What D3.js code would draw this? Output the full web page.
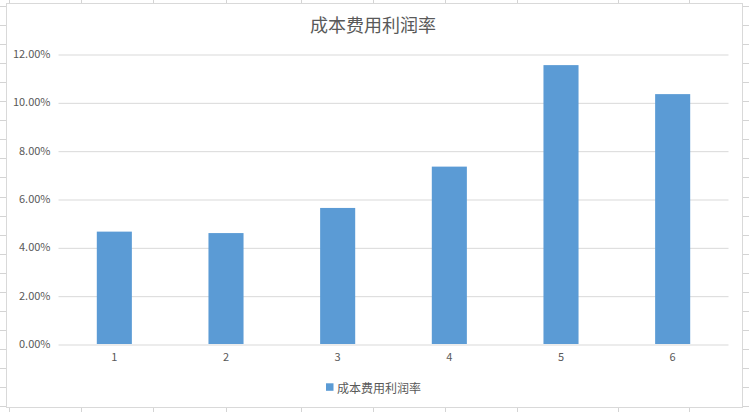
<!DOCTYPE html>
<html>
<head>
<meta charset="utf-8">
<script src="https://cdn.jsdelivr.net/npm/d3@7"></script>
<style>
  body { margin: 0; background: #fff; }
  svg { display: block; }
</style>
</head>
<body>
<svg width="749" height="412"></svg>
<script>
  // data
  var categories = ["1", "2", "3", "4", "5", "6"];
  var values = [0.0465, 0.0459, 0.0563, 0.0734, 0.1154, 0.1034];
  var yTicks = [0, 0.02, 0.04, 0.06, 0.08, 0.10, 0.12];
  var seriesName = "成本费用利润率";
  var title = "成本费用利润率";

  var W = 749, H = 412;
  var plot = { left: 58.5, right: 728.5, top: 54, bottom: 344 };
  var textColor = "#595959";
  var barColor = "#5b9bd5";
  var font = "'Noto Sans CJK SC', 'Noto Sans', sans-serif";

  var svg = d3.select("svg");

  // spreadsheet cells behind the chart
  var colLines = [9, 81, 153, 226, 301, 373, 445, 517, 618, 689];
  var bg = svg.append("g").attr("stroke", "#d4d4d4").attr("stroke-width", 1);
  bg.selectAll("line.col")
      .data(colLines)
      .enter().append("line")
      .attr("x1", function(d) { return d + 0.5; })
      .attr("x2", function(d) { return d + 0.5; })
      .attr("y1", 0).attr("y2", H);
  bg.selectAll("line.row")
      .data(d3.range(0, 22))
      .enter().append("line")
      .attr("x1", 0).attr("x2", W)
      .attr("y1", function(d) { return Math.round(6 + d * 19.05) + 0.5; })
      .attr("y2", function(d) { return Math.round(6 + d * 19.05) + 0.5; });

  // chart box
  svg.append("rect")
      .attr("x", 6.5).attr("y", 3.5)
      .attr("width", 736).attr("height", 404)
      .attr("fill", "#fff")
      .attr("stroke", "#d9d9d9");

  var x = d3.scaleBand()
      .domain(categories)
      .range([plot.left, plot.right])
      .paddingInner(0.686)
      .paddingOuter(0.343);

  var y = d3.scaleLinear()
      .domain([0, 0.12])
      .range([plot.bottom, plot.top]);

  // gridlines
  svg.append("g")
      .attr("transform", "translate(" + plot.left + ",0)")
      .call(d3.axisLeft(y).tickValues(yTicks).tickSize(-(plot.right - plot.left)).tickFormat(""))
      .call(function(g) { g.select(".domain").remove(); })
      .selectAll("line")
      .attr("stroke", "#d9d9d9")
      .attr("transform", "translate(0,0.5)");

  // y labels
  svg.append("g")
      .attr("transform", "translate(" + (plot.left - 8) + ",0)")
      .call(d3.axisLeft(y).tickValues(yTicks).tickSize(0).tickPadding(0).tickFormat(d3.format(".2%")))
      .call(function(g) { g.select(".domain").remove(); })
      .selectAll("text")
      .attr("fill", textColor)
      .style("font-family", font)
      .style("font-size", "11px");

  // bars
  svg.append("g")
      .selectAll("rect")
      .data(values)
      .enter().append("rect")
      .attr("x", function(d, i) { return x(categories[i]); })
      .attr("width", x.bandwidth())
      .attr("y", function(d) { return y(d); })
      .attr("height", function(d) { return y(0) - y(d); })
      .attr("fill", barColor);

  // x labels
  svg.append("g")
      .attr("transform", "translate(0," + (plot.bottom + 9) + ")")
      .call(d3.axisBottom(x).tickSize(0).tickPadding(0))
      .call(function(g) { g.select(".domain").remove(); })
      .selectAll("text")
      .attr("fill", textColor)
      .style("font-family", font)
      .style("font-size", "11px");

  // title
  svg.append("text")
      .attr("x", 373).attr("y", 24)
      .attr("text-anchor", "middle")
      .attr("dominant-baseline", "central")
      .attr("fill", textColor)
      .style("font-family", font)
      .style("font-size", "18px")
      .text(title);

  // legend
  var legend = svg.append("g").attr("transform", "translate(326,387)");
  legend.append("rect")
      .attr("x", 0).attr("y", -3.7)
      .attr("width", 7.5).attr("height", 7.5)
      .attr("fill", barColor);
  legend.append("text")
      .attr("x", 11).attr("y", 0)
      .attr("dominant-baseline", "central")
      .attr("fill", textColor)
      .style("font-family", font)
      .style("font-size", "12px")
      .text(seriesName);
</script>
</body>
</html>
